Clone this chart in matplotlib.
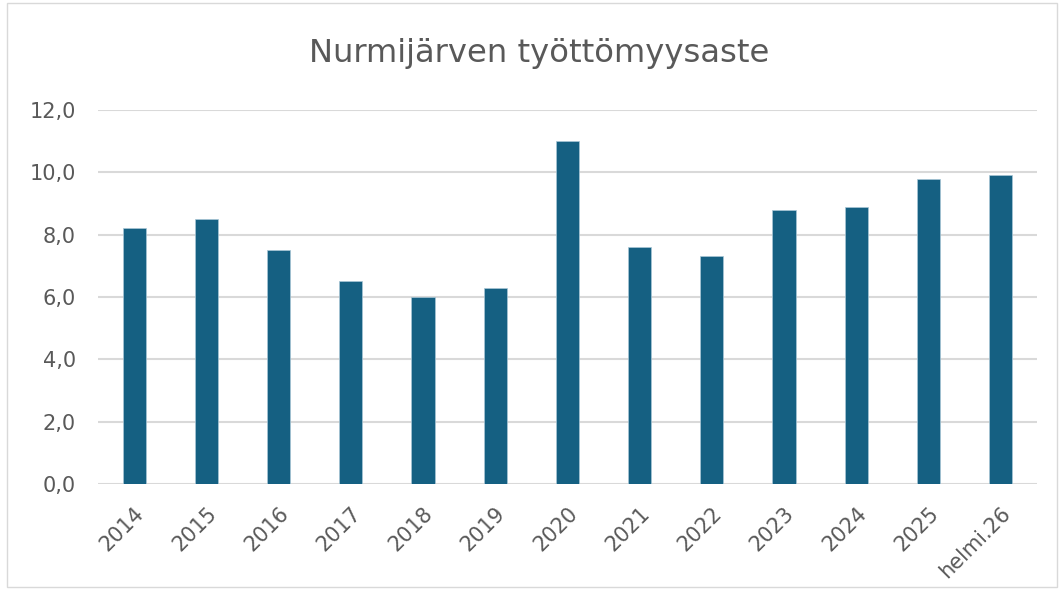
import matplotlib
matplotlib.use("Agg")
import matplotlib.pyplot as plt
from matplotlib.patches import Rectangle

categories = ["2014", "2015", "2016", "2017", "2018", "2019", "2020",
              "2021", "2022", "2023", "2024", "2025", "helmi.26"]
values = [8.2, 8.5, 7.5, 6.5, 6.0, 6.3, 11.0, 7.6, 7.3, 8.8, 8.9, 9.8, 9.9]
yticks = [0, 2, 4, 6, 8, 10, 12]
ytick_labels = ["0,0", "2,0", "4,0", "6,0", "8,0", "10,0", "12,0"]
title = "Nurmijärven työttömyysaste"

plt.rcParams['font.family'] = ['DejaVu Sans']

fig = plt.figure(figsize=(10.6, 5.93), dpi=100)
ax = fig.add_axes([0.0925, 0.184, 0.8855, 0.6305])

x = list(range(len(categories)))
ax.bar(x, values, width=0.32, color="#156082", edgecolor="#a9c7d6", linewidth=0.5, zorder=3)

ax.set_xlim(-0.5, len(categories) - 0.5)
ax.set_ylim(0, 12)
ax.set_yticks(yticks)
ax.set_yticklabels(ytick_labels)
ax.set_xticks(x)
ax.set_xticklabels(categories, rotation=45, ha="right", rotation_mode="anchor")

ax.grid(axis="y", color="#d9d9d9", linewidth=1.5, zorder=0)
ax.set_axisbelow(True)
for s in ax.spines.values():
    s.set_visible(False)
ax.tick_params(axis="both", length=0, colors="#595959", labelsize=15)
ax.tick_params(axis="y", pad=16)
ax.tick_params(axis="x", pad=14)

fig.text(0.5085, 0.91, title, ha="center", va="center", fontsize=23.2, color="#595959")

fig.patches.append(Rectangle((0.007, 0.01), 0.99, 0.985, transform=fig.transFigure,
                             fill=False, edgecolor="#d9d9d9", linewidth=1))

fig.savefig("out.png", dpi=100)
